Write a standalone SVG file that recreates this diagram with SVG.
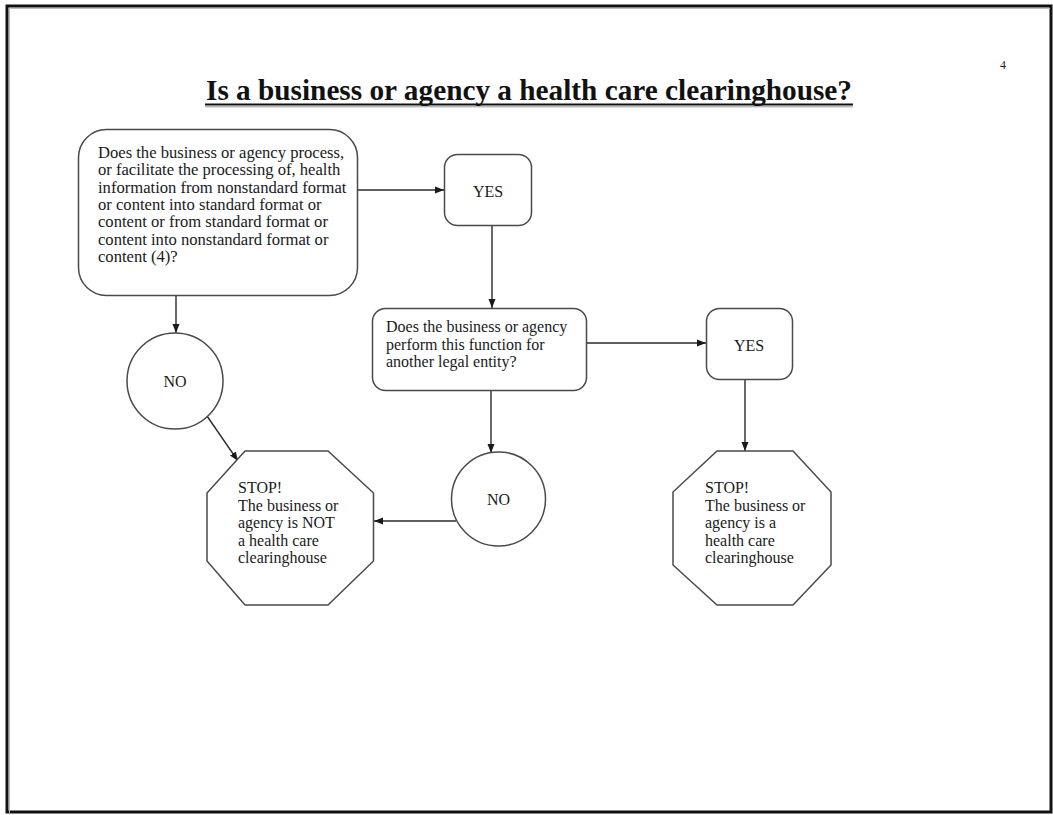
<svg xmlns="http://www.w3.org/2000/svg" width="1053" height="815" viewBox="0 0 1053 815">
  <style>
    .shape { fill: #ffffff; stroke: #4a4a4a; stroke-width: 1.5; }
    .conn { fill: none; stroke: #2a2a2a; stroke-width: 1.4; }
    .txt { font-family: "Liberation Serif", "Times New Roman", serif; font-size: 16px; fill: #1a1a1a; }
    .txt-wide { font-size: 16.6px; }
    .title { font-family: "Liberation Serif", "Times New Roman", serif; font-size: 30px; font-weight: bold; fill: #111111; }
  </style>
  <defs>
    <marker id="arrow" markerWidth="9" markerHeight="8" refX="9" refY="4" orient="auto" markerUnits="userSpaceOnUse">
      <path d="M0,0.5 L9,4 L0,7.5 Z" fill="#1a1a1a"/>
    </marker>
  </defs>

  <!-- page frame -->
  <rect x="0" y="0" width="1053" height="815" fill="#ffffff"/>
  <rect x="7" y="6" width="1044" height="806" fill="none" stroke="#111111" stroke-width="3"/>
  <path d="M9.5,813 V8.5 H1050" fill="none" stroke="#bdbdbd" stroke-width="1"/>

  <!-- page number and title -->
  <text x="1000" y="69" style="font-family: 'Liberation Serif', serif; font-size: 12px; fill: #222;">4</text>
  <text class="title" x="206" y="100" textLength="646" lengthAdjust="spacingAndGlyphs">Is a business or agency a health care clearinghouse?</text>
  <line x1="205" y1="104.5" x2="853" y2="104.5" stroke="#111111" stroke-width="2.2"/>
  <line x1="205" y1="106.8" x2="853" y2="106.8" stroke="#9a9a9a" stroke-width="1"/>

  <!-- connectors -->
  <g id="connectors">
    <line class="conn" x1="358" y1="190" x2="444" y2="190" marker-end="url(#arrow)"/>
    <line class="conn" x1="492" y1="226" x2="492" y2="308" marker-end="url(#arrow)"/>
    <line class="conn" x1="587" y1="343" x2="706" y2="343" marker-end="url(#arrow)"/>
    <line class="conn" x1="745" y1="380" x2="745" y2="451" marker-end="url(#arrow)"/>
    <line class="conn" x1="176" y1="296" x2="176" y2="333" marker-end="url(#arrow)"/>
    <line class="conn" x1="207" y1="416" x2="238" y2="461" marker-end="url(#arrow)"/>
    <line class="conn" x1="491" y1="391" x2="491" y2="453" marker-end="url(#arrow)"/>
    <line class="conn" x1="456" y1="521" x2="374" y2="521" marker-end="url(#arrow)"/>
  </g>

  <!-- first question -->
  <g id="q1">
    <rect class="shape" x="78.5" y="129.5" width="279" height="166" rx="28" ry="28"/>
    <text class="txt txt-wide" x="98" y="158">Does the business or agency process,</text>
    <text class="txt txt-wide" x="98" y="175.3">or facilitate the processing of, health</text>
    <text class="txt txt-wide" x="98" y="192.6">information from nonstandard format</text>
    <text class="txt txt-wide" x="98" y="209.9">or content into standard format or</text>
    <text class="txt txt-wide" x="98" y="227.2">content or from standard format or</text>
    <text class="txt txt-wide" x="98" y="244.5">content into nonstandard format or</text>
    <text class="txt txt-wide" x="98" y="261.8">content (4)?</text>
  </g>

  <!-- yes after first question -->
  <g id="yes1">
    <rect class="shape" x="444.5" y="154.5" width="87" height="71" rx="13" ry="13"/>
    <text class="txt" x="488" y="196.5" text-anchor="middle">YES</text>
  </g>

  <!-- second question -->
  <g id="q2">
    <rect class="shape" x="372.5" y="308.5" width="214" height="82" rx="13" ry="13"/>
    <text class="txt" x="386" y="332">Does the business or agency</text>
    <text class="txt" x="386" y="349.5">perform this function for</text>
    <text class="txt" x="386" y="367">another legal entity?</text>
  </g>

  <!-- yes after second question -->
  <g id="yes2">
    <rect class="shape" x="706.5" y="308.5" width="86" height="71" rx="13" ry="13"/>
    <text class="txt" x="749" y="350.5" text-anchor="middle">YES</text>
  </g>

  <!-- no after first question -->
  <g id="no1">
    <circle class="shape" cx="175" cy="381" r="48"/>
    <text class="txt" x="175" y="386.5" text-anchor="middle">NO</text>
  </g>

  <!-- no after second question -->
  <g id="no2">
    <circle class="shape" cx="498.5" cy="499" r="47"/>
    <text class="txt" x="498.5" y="504.5" text-anchor="middle">NO</text>
  </g>

  <!-- stop: not a clearinghouse -->
  <g id="stop-not">
    <polygon class="shape" points="245,451 328,451 373.5,493 373.5,561 328,605 245,605 207,561 207,493"/>
    <text class="txt" x="238" y="493">STOP!</text>
    <text class="txt" x="238" y="510.5">The business or</text>
    <text class="txt" x="238" y="528">agency is NOT</text>
    <text class="txt" x="238" y="545.5">a health care</text>
    <text class="txt" x="238" y="563">clearinghouse</text>
  </g>

  <!-- stop: is a clearinghouse -->
  <g id="stop-is">
    <polygon class="shape" points="717,451 793,451 831,492 831,565 793,605 717,605 673,565 673,492"/>
    <text class="txt" x="705" y="493">STOP!</text>
    <text class="txt" x="705" y="510.5">The business or</text>
    <text class="txt" x="705" y="528">agency is a</text>
    <text class="txt" x="705" y="545.5">health care</text>
    <text class="txt" x="705" y="563">clearinghouse</text>
  </g>
</svg>
